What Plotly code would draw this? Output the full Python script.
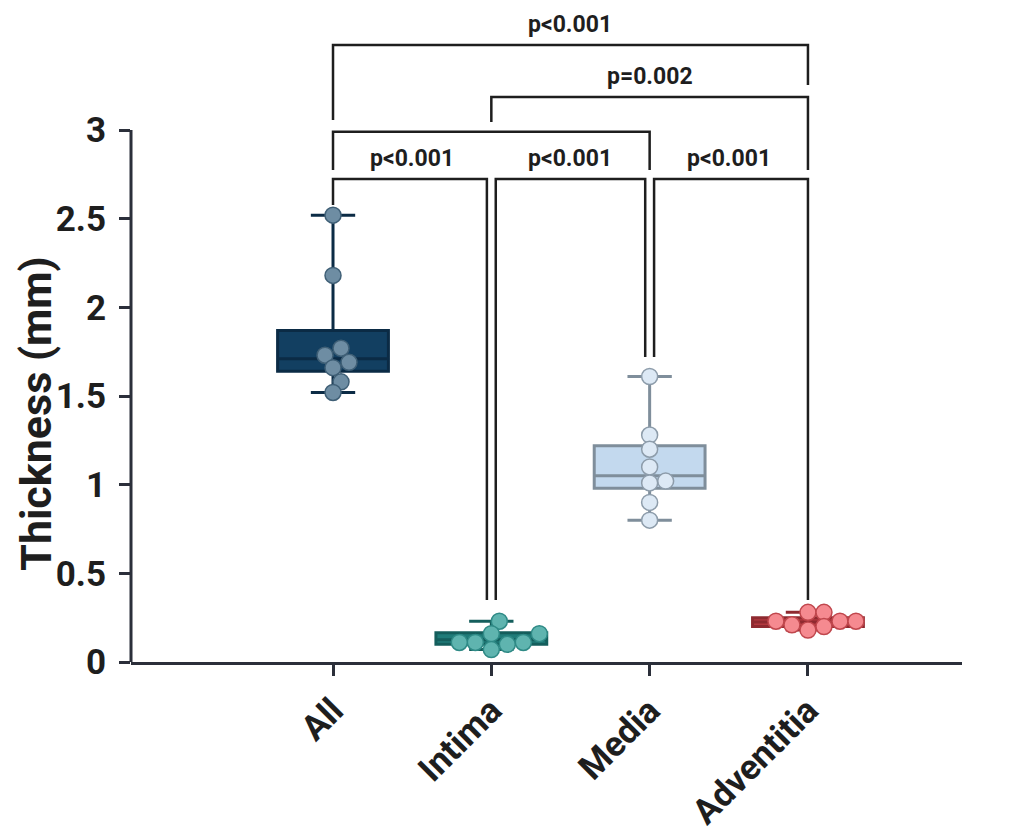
import math
import plotly.graph_objects as go

# ---------------- data ----------------
categories = ["All", "Intima", "Media", "Adventitia"]

all_vals = [2.52, 2.18, 1.77, 1.73, 1.69, 1.66, 1.58, 1.52]
intima_vals = [0.23, 0.16, 0.16, 0.11, 0.10, 0.11, 0.07, 0.11]
media_vals = [1.61, 1.28, 1.20, 1.10, 1.02, 1.01, 0.90, 0.80]
adventitia_vals = [0.23, 0.23, 0.28, 0.21, 0.28, 0.20, 0.23, 0.18]

# box summaries (q1, median, q3, lower whisker, upper whisker)
box_q1 = [1.64, 0.10, 0.98, 0.20]
box_median = [1.71, 0.125, 1.05, 0.225]
box_q3 = [1.87, 0.165, 1.22, 0.25]
box_low = [1.52, 0.07, 0.80, 0.18]
box_high = [2.52, 0.23, 1.61, 0.28]

y_ticks = [0, 0.5, 1, 1.5, 2, 2.5, 3]
y_tick_text = ["0", "0.5", "1", "1.5", "2", "2.5", "3"]

# comparisons: (group a, group b, bracket level, leg end a, leg end b, label)
comparisons = [
    ("All", "Adventitia", 3.48, 3.056, 3.254, "p<0.001"),
    ("Intima", "Adventitia", 3.186, 3.045, 2.774, "p=0.002"),
    ("All", "Media", 2.99, 2.774, 2.774, None),
    ("All", "Intima", 2.724, 2.577, 0.35, "p<0.001"),
    ("Intima", "Media", 2.724, 0.35, 1.72, "p<0.001"),
    ("Media", "Adventitia", 2.724, 1.72, 0.35, "p<0.001"),
]

# ---------------- style ----------------
series = [all_vals, intima_vals, media_vals, adventitia_vals]
box_fill = ["#123f61", "#1f7b78", "#c3d9ee", "#b3393f"]
box_line = ["#0b2b45", "#145e5c", "#7f8e9b", "#8f2a30"]
pt_fill = ["#6e8da3", "#5fb4af", "#dde9f5", "#f58a90"]
pt_line = ["#3f5f76", "#2f8a86", "#8d9caa", "#c0474d"]
axis_col = "#2b2f3a"
FONT = "Roboto"

W, H = 1018, 831
ML, MR, MT, MB = 123, 64, 14, 177
PX_PER_Y = 177.33
Y_MAX = (H - MT - MB) / PX_PER_Y
X_MIN, X_MAX = -1.276, 3.973
px_per_x = (W - ML - MR) / (X_MAX - X_MIN)
PT_D = 16


def swarm(vals, center, diam=PT_D, sep=0.8):
    placed = []
    xs = [0.0] * len(vals)
    order = sorted(range(len(vals)), key=lambda i: vals[i])
    step = diam * 0.5
    cands = [0.0]
    for j in range(1, 12):
        cands += [j * step, -j * step]
    for i in order:
        yp = vals[i] * PX_PER_Y
        chosen = cands[-1]
        for c in cands:
            if all(math.hypot(c - px, yp - py) >= diam * sep for px, py in placed):
                chosen = c
                break
        placed.append((chosen, yp))
        xs[i] = center + chosen / px_per_x
    return xs


fig = go.Figure()

for i, cat in enumerate(categories):
    fig.add_trace(go.Box(
        x=[i], q1=[box_q1[i]], median=[box_median[i]], q3=[box_q3[i]],
        lowerfence=[box_low[i]], upperfence=[box_high[i]],
        width=0.7, whiskerwidth=0.4, boxpoints=False,
        fillcolor=box_fill[i], line=dict(color=box_line[i], width=3),
        showlegend=False, hoverinfo="skip",
    ))

for i, vals in enumerate(series):
    fig.add_trace(go.Scatter(
        x=swarm(vals, i), y=vals, mode="markers",
        marker=dict(size=PT_D, color=pt_fill[i], line=dict(color=pt_line[i], width=1.5)),
        showlegend=False, cliponaxis=False, hoverinfo="skip",
    ))

# comparison brackets
idx = {c: k for k, c in enumerate(categories)}
shapes = []
annotations = []
off = 0.028
for a, b, lvl, ea, eb, lab in comparisons:
    xa, xb = idx[a], idx[b]
    if lvl < 2.8:
        if xa != 0:
            xa += off
        if xb != 3:
            xb -= off
    path = f"M {xa},{ea} L {xa},{lvl} L {xb},{lvl} L {xb},{eb}"
    shapes.append(dict(type="path", path=path, xref="x", yref="y",
                       line=dict(color="#1e1e1e", width=2.5), layer="above"))
    if lab:
        annotations.append(dict(x=(idx[a] + idx[b]) / 2, y=lvl, xref="x", yref="y",
                                text=f"<b>{lab}</b>", showarrow=False, yanchor="bottom",
                                yshift=5, font=dict(family=FONT, size=23, color="#1e1e1e")))

# y axis line from 0 to 3
shapes.append(dict(type="line", xref="paper", yref="y", x0=0, x1=0, y0=0, y1=3,
                   line=dict(color=axis_col, width=3), layer="above"))

annotations.append(dict(x=-(ML - 1) / (W - ML - MR), y=1.40, xref="paper", yref="y",
                        text="<b>Thickness (mm)</b>",
                        textangle=-90, showarrow=False, xanchor="left", yanchor="middle",
                        font=dict(family=FONT, size=43, color="#1e1e1e")))

fig.update_layout(
    width=W, height=H, margin=dict(l=ML, r=MR, t=MT, b=MB),
    paper_bgcolor="white", plot_bgcolor="white",
    shapes=shapes, annotations=annotations,
    xaxis=dict(range=[X_MIN, X_MAX], tickvals=list(range(len(categories))),
               ticktext=[f"<b>{c}</b>" for c in categories], tickangle=-45,
               showline=True, linecolor=axis_col, linewidth=3,
               ticks="outside", ticklen=11, tickwidth=3, tickcolor=axis_col,
               showgrid=False, zeroline=False, automargin=False,
               tickfont=dict(family=FONT, size=35, color="#1e1e1e")),
    yaxis=dict(range=[0, Y_MAX], tickvals=y_ticks, ticktext=[f"<b>{t}</b>" for t in y_tick_text],
               showline=False, ticks="outside", ticklen=11, tickwidth=3, tickcolor=axis_col,
               showgrid=False, zeroline=False, automargin=False, ticklabelstandoff=6,
               tickfont=dict(family=FONT, size=35, color="#1e1e1e")),
)

fig.write_html("out.html")
